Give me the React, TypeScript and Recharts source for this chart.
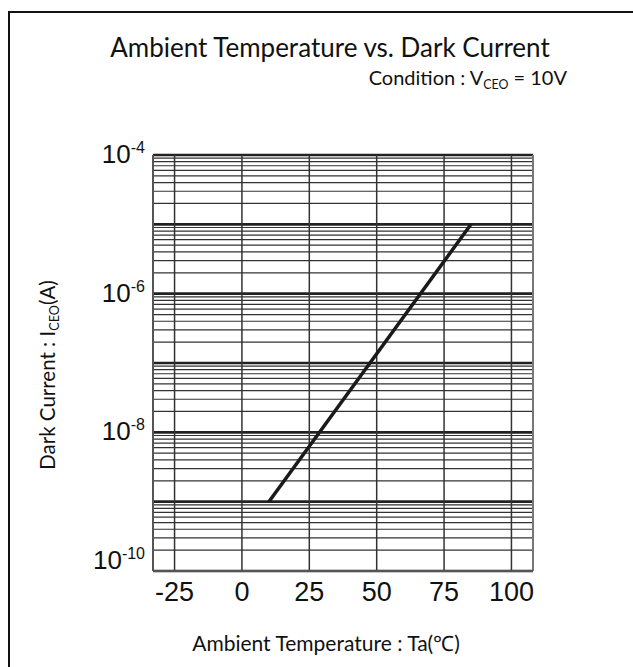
import React from 'react';
import { LineChart, Line, XAxis, YAxis, ReferenceLine } from 'recharts';

const temperature = [10, 85];
const darkCurrent = [1e-9, 1e-5];

const xTicks = [-25, 0, 25, 50, 75, 100];
const yTicks = [1e-10, 1e-8, 1e-6, 1e-4];
const decades = [1e-10, 1e-9, 1e-8, 1e-7, 1e-6, 1e-5];
const multipliers = [2, 3, 4, 5, 6, 7, 8, 9];

const data = temperature.map((t, i) => ({ t, i: darkCurrent[i] }));

const majorLines = [...decades, 1e-4];
const minorLines = decades.flatMap((d) => multipliers.map((m) => m * d));

const TICK_FONT = '"Liberation Sans", Arial, sans-serif';
const TEXT_FONT = 'Lato, "Open Sans", sans-serif';

const XTick = ({ x, y, payload }: any) => (
  <text x={x} y={y + 30} textAnchor="middle" fontFamily={TICK_FONT} fontSize={27} fill="#111">
    {payload.value}
  </text>
);

const YTick = ({ x, y, payload }: any) => {
  const exp = Math.round(Math.log10(payload.value));
  const dy = payload.value === 1e-10 ? -2 : 8;
  return (
    <text x={x} y={y + dy} textAnchor="end" fontFamily={TICK_FONT} fill="#111">
      <tspan fontSize={26}>10</tspan>
      <tspan fontSize={16} dy={-10}>{exp}</tspan>
    </text>
  );
};

const Sub = ({ children }: { children: React.ReactNode }) => (
  <span style={{ fontSize: '0.62em', verticalAlign: '-0.3em' }}>{children}</span>
);

const label = (left: number, top: number, size: number, extra: React.CSSProperties = {}) =>
  ({
    position: 'absolute',
    left,
    top,
    fontFamily: TEXT_FONT,
    fontSize: size,
    color: '#111',
    whiteSpace: 'nowrap',
    lineHeight: 1,
    transform: 'translate(-50%, -50%)',
    ...extra,
  }) as React.CSSProperties;

export default function App() {
  return (
    <div
      style={{
        position: 'absolute',
        left: 0,
        top: 0,
        width: 633,
        height: 667,
        overflow: 'hidden',
        background: '#fff',
      }}
    >
      <div
        style={{
          position: 'absolute',
          left: 8,
          top: 11,
          width: 700,
          height: 700,
          borderLeft: '2px solid #111',
          borderTop: '2px solid #111',
        }}
      />

      <div style={label(330, 47, 26)}>Ambient Temperature vs. Dark Current</div>
      <div style={label(567, 79, 20, { transform: 'translate(-100%, -50%)' })}>
        Condition : V<Sub>CEO</Sub> = 10V
      </div>
      <div style={label(49, 375, 20.5, { transform: 'translate(-50%, -50%) rotate(-90deg)' })}>
        Dark Current : I<Sub>CEO</Sub>(A)
      </div>
      <div style={label(326, 642, 21)}>Ambient Temperature : Ta(℃)</div>

      <div style={{ position: 'absolute', left: 0, top: 0 }}>
        <LineChart
          width={633}
          height={667}
          data={data}
          margin={{ top: 155, right: 100, bottom: 56, left: 93 }}
        >
          <XAxis
            dataKey="t"
            type="number"
            domain={[-33, 108]}
            ticks={xTicks}
            allowDataOverflow
            axisLine={false}
            tickLine={false}
            tickSize={0}
            tickMargin={0}
            height={40}
            tick={<XTick />}
          />
          <YAxis
            dataKey="i"
            scale="log"
            domain={[1e-10, 1e-4]}
            ticks={yTicks}
            allowDataOverflow
            axisLine={false}
            tickLine={false}
            tickSize={0}
            tickMargin={8}
            width={60}
            tick={<YTick />}
          />

          {minorLines.map((v) => (
            <ReferenceLine key={`m${v}`} y={v} stroke="#333" strokeWidth={1.2} />
          ))}
          {majorLines.map((v) => (
            <ReferenceLine key={`d${v}`} y={v} stroke="#222" strokeWidth={2.6} />
          ))}
          {xTicks.map((v) => (
            <ReferenceLine key={`x${v}`} x={v} stroke="#333" strokeWidth={1.5} />
          ))}
          <ReferenceLine x={-33} stroke="#555" strokeWidth={2} />
          <ReferenceLine x={108} stroke="#777" strokeWidth={2} />
          <ReferenceLine y={1e-10} stroke="#555" strokeWidth={2} />

          <Line
            dataKey="i"
            type="linear"
            stroke="#1a1a1a"
            strokeWidth={3.5}
            dot={false}
            isAnimationActive={false}
          />
        </LineChart>
      </div>
    </div>
  );
}
